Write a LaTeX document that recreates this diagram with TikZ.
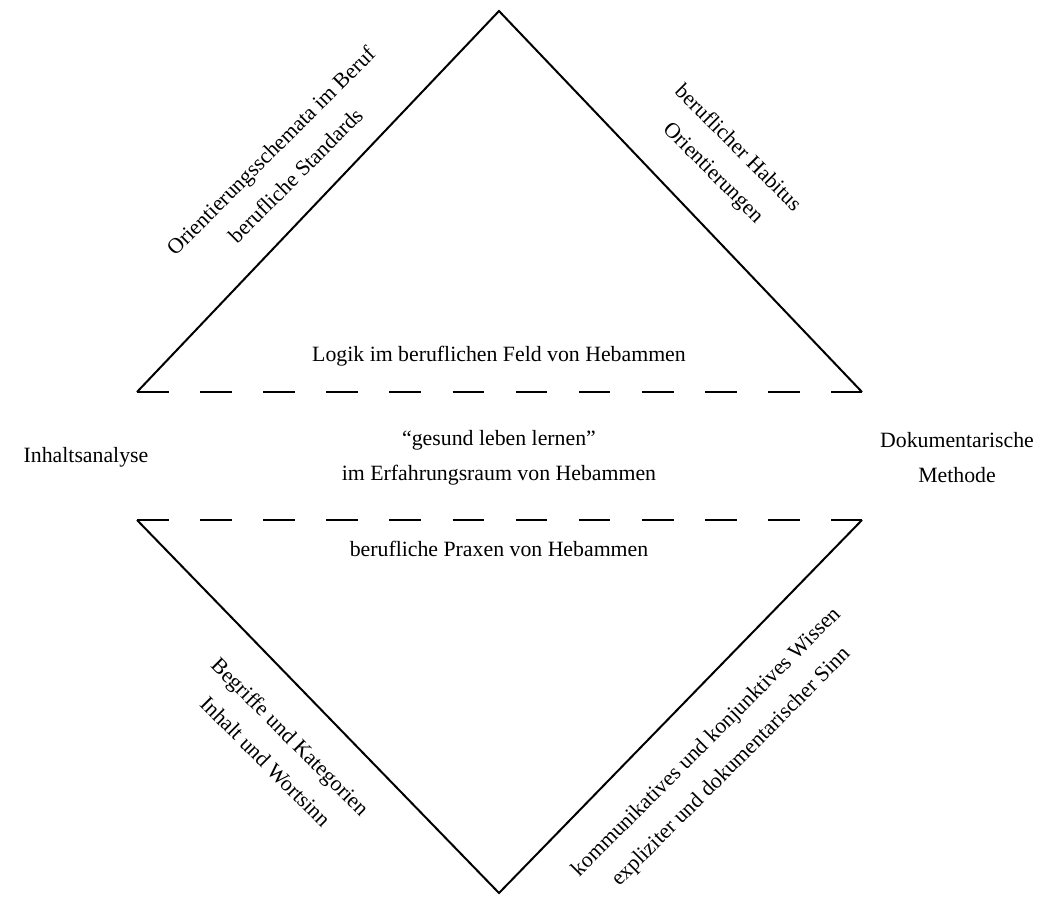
\documentclass[tikz,border=0pt]{standalone}
\usepackage{fontspec}
\setmainfont{Liberation Serif}
\usepackage{tikz}

\begin{document}
\begin{tikzpicture}[x=0.5pt, y=-0.5pt, every node/.style={font=\fontsize{10.9}{17.5}\selectfont, align=center, inner sep=0pt}]

\useasboundingbox (0,0) rectangle (1049,900);

% Corners
\coordinate (uA) at (499,11);
\coordinate (uL) at (137,392);
\coordinate (uR) at (862,392);
\coordinate (lA) at (499,893);
\coordinate (lL) at (137,520);
\coordinate (lR) at (862,520);

% Triangles
\draw[line width=1pt] (uL) -- (uA) -- (uR);
\draw[line width=1pt] (lL) -- (lA) -- (lR);

% Dashed bases
\draw[line width=1pt, dash pattern=on 15.78pt off 15.78pt] (uL) -- (uR);
\draw[line width=1pt, dash pattern=on 15.78pt off 15.78pt] (lL) -- (lR);

% Middle texts
\node at (499,356) (logik) {Logik im beruflichen Feld von Hebammen};
\node at (499,458) (raum) {“gesund leben lernen”\\im Erfahrungsraum von Hebammen};
\node at (499,549) (praxen) {berufliche Praxen von Hebammen};

% Side texts
\node at (86,457) (ia) {Inhaltsanalyse};
\node at (957,458) (dm) {Dokumentarische\\Methode};

% Rotated labels
\node[rotate=45] at (283,163) (ul) {Orientierungsschemata im Beruf\\berufliche Standards};
\node[rotate=-45] at (725,161) (ur) {beruflicher Habitus\\Orientierungen};
\node[rotate=-45] at (278,749) (ll) {Begriffe und Kategorien\\Inhalt und Wortsinn};
\node[rotate=45] at (719,755) (lr) {kommunikatives und konjunktives Wissen\\expliziter und dokumentarischer Sinn};
\end{tikzpicture}
\end{document}
